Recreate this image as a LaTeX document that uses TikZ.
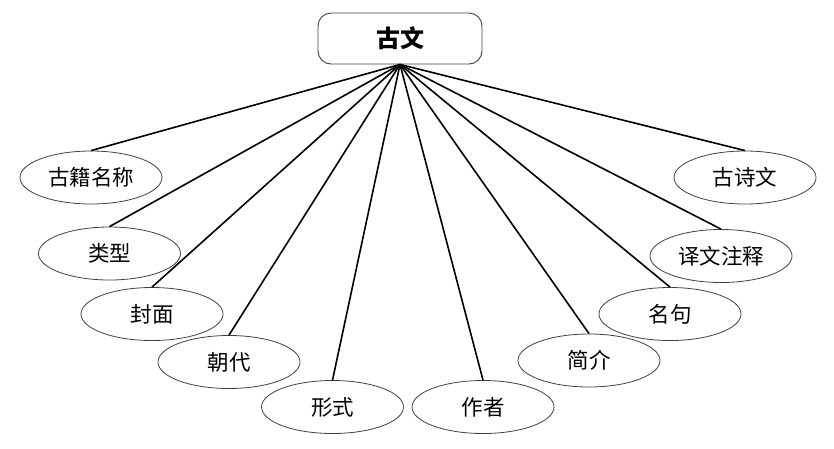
\documentclass[tikz,border=0pt]{standalone}
\usepackage{fontspec}
\newfontfamily\cjk{Noto Sans CJK SC}
\usetikzlibrary{shapes.geometric}
\begin{document}
\begin{tikzpicture}[x=1pt,y=-1pt,
  leaf/.style={ellipse,draw=black!75,line width=0.8pt,minimum width=142pt,minimum height=53pt,inner sep=0pt,font=\cjk\fontsize{21.5}{25}\selectfont},
  root/.style={rectangle,rounded corners=13pt,draw=black!75,line width=0.9pt,minimum width=164pt,minimum height=51pt,inner sep=0pt,font=\cjk\bfseries\fontsize{24}{28}\selectfont},
  link/.style={line width=1.6pt,black}]
\useasboundingbox (0,0) rectangle (834,448);
\node[root] (top) at (400,38.5) {古文};
\node[leaf] (a) at (91,177.5) {古籍名称};
\node[leaf] (b) at (109.5,253.5) {类型};
\node[leaf] (c) at (152,314) {封面};
\node[leaf] (d) at (229,362) {朝代};
\node[leaf] (e) at (332.5,407) {形式};
\node[leaf] (f) at (483,407) {作者};
\node[leaf] (g) at (589,360.5) {简介};
\node[leaf] (h) at (670,314) {名句};
\node[leaf] (i) at (721,256) {译文注释};
\node[leaf] (j) at (745,177.5) {古诗文};
\foreach \n in {a,b,c,d,e,f,g,h,i,j}
  \draw[link] (top.south) -- (\n.north);
\end{tikzpicture}
\end{document}
